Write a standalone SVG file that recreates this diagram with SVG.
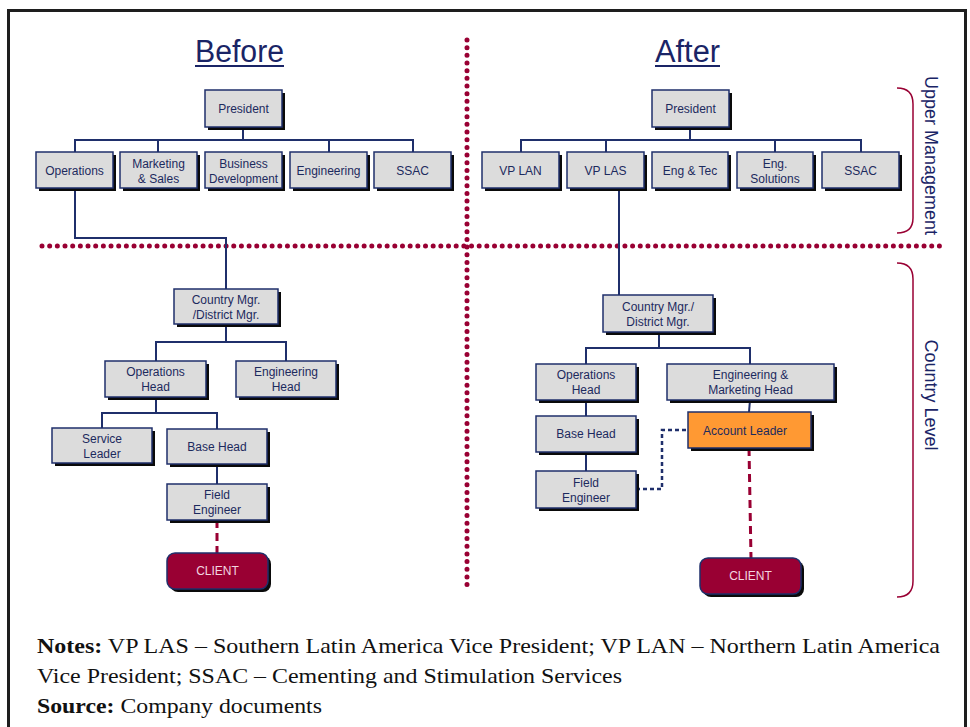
<svg xmlns="http://www.w3.org/2000/svg" width="970" height="727" viewBox="0 0 970 727">
<defs>
<style>
.frame{fill:none;stroke:#1e1e1e;stroke-width:3}
.box{fill:#dcdcdc;stroke:#1f2f6b;stroke-width:1.5}
.sh{fill:#0a0a0a}
.acc{fill:#ff9933;stroke:#1f2f6b;stroke-width:1.5}
.client{fill:#990033;stroke:#1f2f6b;stroke-width:1.5}
.t{font-family:"Liberation Sans",Arial,sans-serif;font-size:12px;fill:#1c2a5e;text-anchor:middle}
.ct{font-family:"Liberation Sans",Arial,sans-serif;font-size:12px;fill:#f2d6e0;text-anchor:middle}
.title{font-family:"Liberation Sans",Arial,sans-serif;font-size:31px;fill:#1a2466}
.side{font-family:"Liberation Sans",Arial,sans-serif;font-size:18px;fill:#1a2466;text-anchor:middle}
.note{font-family:"Liberation Serif","Times New Roman",serif;font-size:22px;fill:#111}
.conn{fill:none;stroke:#1f2f6b;stroke-width:2}
.bdash{fill:none;stroke:#1f2f6b;stroke-width:2.5;stroke-dasharray:4 3}
.rdash{fill:none;stroke:#990033;stroke-width:3;stroke-dasharray:8 5}
.dots{fill:none;stroke:#990033;stroke-width:5;stroke-linecap:round;stroke-dasharray:0 7.67}
.brace{fill:none;stroke:#990033;stroke-width:1.5}
</style>
</defs>
<rect width="970" height="727" fill="#ffffff"/>
<rect class="frame" x="8.5" y="10.5" width="957" height="730"/>

<!-- titles -->
<text class="title" x="195" y="62" textLength="89" lengthAdjust="spacingAndGlyphs">Before</text>
<line x1="195" y1="66" x2="284" y2="66" stroke="#1a2466" stroke-width="2"/>
<text class="title" x="655" y="62" textLength="65" lengthAdjust="spacingAndGlyphs">After</text>
<line x1="655" y1="66" x2="720" y2="66" stroke="#1a2466" stroke-width="2"/>

<!-- separators -->
<line class="dots" x1="42" y1="246" x2="945" y2="246"/>
<line class="dots" x1="467" y1="40" x2="467" y2="592"/>

<!-- side braces and labels -->
<path class="brace" d="M897,88 Q913,88 913,104 V218 Q913,233 897,233"/>
<path class="brace" d="M897,263 Q913,263 913,279 V581 Q913,597 897,597"/>
<text class="side" transform="translate(925,155.5) rotate(90)">Upper Management</text>
<text class="side" transform="translate(925,395) rotate(90)">Country Level</text>

<!-- connectors -->
<g id="connectors">
<path class="conn" d="M243,127 V140 M75,152 V140 H413 V152 M158,140 V152 M329,140 V152"/>
<path class="conn" d="M75,188 V238 H226 V289"/>
<path class="conn" d="M226,324 V342 M156,361 V342 H286 V361"/>
<path class="conn" d="M156,397 V413 M102,428 V413 H217 V429"/>
<path class="conn" d="M217,464 V484"/>
<path class="rdash" d="M217,520 V553"/>
<path class="conn" d="M690,127 V140 M521,152 V140 H861 V152 M606,140 V152 M775,140 V152"/>
<path class="conn" d="M619,188 V295"/>
<path class="conn" d="M659,332 V348 M586,364 V348 H750 V364"/>
<path class="conn" d="M586,400 V416 M586,452 V471"/>
<path class="conn" d="M750,400 L749,412"/>
<path class="bdash" d="M636,489 H662 V430 H688"/>
<path class="rdash" d="M749,448 L751,558"/>
</g>

<!-- Before nodes -->
<g id="b-president"><rect class="sh" x="208" y="93" width="77" height="37"/><rect class="box" x="205" y="90" width="77" height="37"/><text class="t" x="243.5" y="113">President</text></g>
<g id="b-operations"><rect class="sh" x="39" y="155" width="77" height="36"/><rect class="box" x="36" y="152" width="77" height="36"/><text class="t" x="74.5" y="175">Operations</text></g>
<g id="b-marketing"><rect class="sh" x="123" y="155" width="77" height="36"/><rect class="box" x="120" y="152" width="77" height="36"/><text class="t" x="158.5" y="168">Marketing</text><text class="t" x="158.5" y="183">&amp; Sales</text></g>
<g id="b-bizdev"><rect class="sh" x="208" y="155" width="77" height="36"/><rect class="box" x="205" y="152" width="77" height="36"/><text class="t" x="243.5" y="168">Business</text><text class="t" x="243.5" y="183" textLength="69" lengthAdjust="spacingAndGlyphs">Development</text></g>
<g id="b-engineering"><rect class="sh" x="293" y="155" width="77" height="36"/><rect class="box" x="290" y="152" width="77" height="36"/><text class="t" x="328.5" y="175">Engineering</text></g>
<g id="b-ssac"><rect class="sh" x="377" y="155" width="77" height="36"/><rect class="box" x="374" y="152" width="77" height="36"/><text class="t" x="412.5" y="175">SSAC</text></g>
<g id="b-country"><rect class="sh" x="177" y="292" width="104" height="35"/><rect class="box" x="174" y="289" width="104" height="35"/><text class="t" x="226" y="304">Country Mgr.</text><text class="t" x="226" y="319">/District Mgr.</text></g>
<g id="b-opshead"><rect class="sh" x="108" y="364" width="101" height="36"/><rect class="box" x="105" y="361" width="101" height="36"/><text class="t" x="155.5" y="376">Operations</text><text class="t" x="155.5" y="391">Head</text></g>
<g id="b-enghead"><rect class="sh" x="239" y="364" width="100" height="36"/><rect class="box" x="236" y="361" width="100" height="36"/><text class="t" x="286" y="376">Engineering</text><text class="t" x="286" y="391">Head</text></g>
<g id="b-service"><rect class="sh" x="55" y="431" width="100" height="35"/><rect class="box" x="52" y="428" width="100" height="35"/><text class="t" x="102" y="443">Service</text><text class="t" x="102" y="458">Leader</text></g>
<g id="b-base"><rect class="sh" x="170" y="432" width="100" height="35"/><rect class="box" x="167" y="429" width="100" height="35"/><text class="t" x="217" y="451">Base Head</text></g>
<g id="b-field"><rect class="sh" x="170" y="487" width="100" height="36"/><rect class="box" x="167" y="484" width="100" height="36"/><text class="t" x="217" y="499">Field</text><text class="t" x="217" y="514">Engineer</text></g>
<g id="b-client"><rect class="sh" x="170" y="556" width="101" height="36" rx="8"/><rect class="client" x="167" y="553" width="101" height="36" rx="8"/><text class="ct" x="217.5" y="575">CLIENT</text></g>

<!-- After nodes -->
<g id="a-president"><rect class="sh" x="655" y="93" width="77" height="37"/><rect class="box" x="652" y="90" width="77" height="37"/><text class="t" x="690.5" y="113">President</text></g>
<g id="a-vplan"><rect class="sh" x="485" y="155" width="77" height="36"/><rect class="box" x="482" y="152" width="77" height="36"/><text class="t" x="520.5" y="175">VP LAN</text></g>
<g id="a-vplas"><rect class="sh" x="570" y="155" width="77" height="36"/><rect class="box" x="567" y="152" width="77" height="36"/><text class="t" x="605.5" y="175">VP LAS</text></g>
<g id="a-engtec"><rect class="sh" x="655" y="155" width="76" height="36"/><rect class="box" x="652" y="152" width="76" height="36"/><text class="t" x="690" y="175">Eng &amp; Tec</text></g>
<g id="a-engsol"><rect class="sh" x="740" y="155" width="76" height="36"/><rect class="box" x="737" y="152" width="76" height="36"/><text class="t" x="775" y="168">Eng.</text><text class="t" x="775" y="183">Solutions</text></g>
<g id="a-ssac"><rect class="sh" x="825" y="155" width="77" height="36"/><rect class="box" x="822" y="152" width="77" height="36"/><text class="t" x="860.5" y="175">SSAC</text></g>
<g id="a-country"><rect class="sh" x="606" y="298" width="110" height="37"/><rect class="box" x="603" y="295" width="110" height="37"/><text class="t" x="658" y="311">Country Mgr./</text><text class="t" x="658" y="326">District Mgr.</text></g>
<g id="a-opshead"><rect class="sh" x="539" y="367" width="100" height="36"/><rect class="box" x="536" y="364" width="100" height="36"/><text class="t" x="586" y="379">Operations</text><text class="t" x="586" y="394">Head</text></g>
<g id="a-engmkt"><rect class="sh" x="670" y="367" width="167" height="36"/><rect class="box" x="667" y="364" width="167" height="36"/><text class="t" x="750.5" y="379">Engineering &amp;</text><text class="t" x="750.5" y="394">Marketing Head</text></g>
<g id="a-base"><rect class="sh" x="539" y="419" width="100" height="36"/><rect class="box" x="536" y="416" width="100" height="36"/><text class="t" x="586" y="438">Base Head</text></g>
<g id="a-field"><rect class="sh" x="539" y="474" width="100" height="37"/><rect class="box" x="536" y="471" width="100" height="37"/><text class="t" x="586" y="487">Field</text><text class="t" x="586" y="502">Engineer</text></g>
<g id="a-account"><rect class="sh" x="691" y="415" width="123" height="36"/><rect class="acc" x="688" y="412" width="123" height="36"/><text class="t" x="745" y="435">Account Leader</text></g>
<g id="a-client"><rect class="sh" x="703" y="561" width="101" height="36" rx="8"/><rect class="client" x="700" y="558" width="101" height="36" rx="8"/><text class="ct" x="750.5" y="580">CLIENT</text></g>

<!-- notes -->
<text class="note" x="37" y="653" textLength="903" lengthAdjust="spacingAndGlyphs"><tspan font-weight="bold">Notes:</tspan> VP LAS – Southern Latin America Vice President; VP LAN – Northern Latin America</text>
<text class="note" x="37" y="683" textLength="585" lengthAdjust="spacingAndGlyphs">Vice President; SSAC – Cementing and Stimulation Services</text>
<text class="note" x="37" y="713" textLength="285" lengthAdjust="spacingAndGlyphs"><tspan font-weight="bold">Source:</tspan> Company documents</text>
</svg>
